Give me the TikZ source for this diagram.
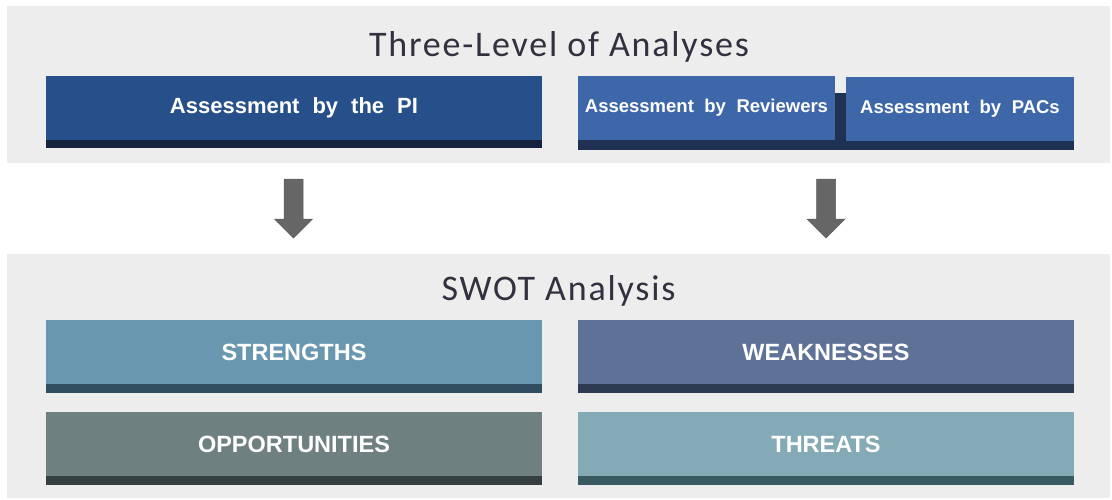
\documentclass[tikz,border=0pt]{standalone}
\usepackage{fontspec}
\setmainfont{Liberation Sans}
\newfontfamily\titlefont[LetterSpace=5]{Carlito}
\newfontfamily\boxfont{Liberation Sans Bold}
\definecolor{panelgray}{HTML}{EDEDED}
\definecolor{titlecol}{HTML}{33313F}
\definecolor{piblue}{HTML}{274F8A}
\definecolor{pidark}{HTML}{15233F}
\definecolor{revblue}{HTML}{3E67A9}
\definecolor{revdark}{HTML}{1F3254}
\definecolor{strcol}{HTML}{6897AF}
\definecolor{strdark}{HTML}{2F4D5E}
\definecolor{weakcol}{HTML}{5E7196}
\definecolor{weakdark}{HTML}{2C3A52}
\definecolor{oppcol}{HTML}{6F8081}
\definecolor{oppdark}{HTML}{353F40}
\definecolor{thrcol}{HTML}{84ABB5}
\definecolor{thrdark}{HTML}{3A5A62}
\definecolor{arrowgray}{HTML}{666666}
\begin{document}
\begin{tikzpicture}[x=1pt,y=-1pt,
  panel/.style={fill=panelgray},
  boxnode/.style={rectangle, inner sep=0pt, text=white, anchor=center},
  bigbox/.style={boxnode, minimum width=496, minimum height=64,
    font=\boxfont\fontsize{23.5}{26}\selectfont},
  title/.style={text=titlecol, anchor=base, inner sep=0pt,
    font=\titlefont\fontsize{36}{40}\selectfont},
  blockarrow/.style={fill=arrowgray, draw=arrowgray!90!black, line width=0.5pt}
]
\useasboundingbox (0,0) rectangle (1112,499);
% panels
\fill[panel] (7,6) rectangle (1110,163);
\fill[panel] (7,254) rectangle (1110,498);
% titles
\node[title] (t1) at (559,56.5) {Three-Level of Analyses};
\node[title] (t2) at (558.5,300) {SWOT Analysis};
% top row
\node[boxnode, fill=piblue, minimum width=496, minimum height=64,
  font={\boxfont\fontsize{22}{25}\selectfont\spaceskip=13pt\relax}] (pi) at (294,107.5) {Assessment by the PI};
\fill[pidark] (pi.south west) rectangle ([yshift=-8.5pt]pi.south east);
\node[boxnode, minimum width=257, minimum height=64] (rev) at (706.5,108) {};
\node[boxnode, minimum width=228, minimum height=64] (pac) at (960,109) {};
\fill[revdark] (rev.south west) rectangle ([yshift=-9pt]pac.south east);
\fill[revdark] ([yshift=-17pt]rev.north east) rectangle (pac.south west);
\node[boxnode, fill=revblue, minimum width=257, minimum height=64,
  font={\boxfont\fontsize{18.5}{22}\selectfont\spaceskip=10.5pt\relax}] at (rev) {Assessment by Reviewers};
\node[boxnode, fill=revblue, minimum width=228, minimum height=64,
  font={\boxfont\fontsize{18.5}{22}\selectfont\spaceskip=10.5pt\relax}] at (pac) {Assessment by PACs};
% arrows
\coordinate (a1) at (293.5,179);
\coordinate (a2) at (826,179);
\foreach \a in {a1,a2}{
  \filldraw[blockarrow] (\a) ++(-9.5,0) -- ++(19,0) -- ++(0,40) -- ++(9.5,0)
    -- ++(-19,19) -- ++(-19,-19) -- ++(9.5,0) -- cycle;
}
% SWOT
\node[bigbox, fill=strcol] (s) at (294,352) {STRENGTHS};
\fill[strdark] (s.south west) rectangle ([yshift=-9pt]s.south east);
\node[bigbox, fill=weakcol] (w) at (826,352) {WEAKNESSES};
\fill[weakdark] (w.south west) rectangle ([yshift=-9pt]w.south east);
\node[bigbox, fill=oppcol] (o) at (294,444) {OPPORTUNITIES};
\fill[oppdark] (o.south west) rectangle ([yshift=-9pt]o.south east);
\node[bigbox, fill=thrcol] (th) at (826,444) {THREATS};
\fill[thrdark] (th.south west) rectangle ([yshift=-9pt]th.south east);
\end{tikzpicture}
\end{document}
